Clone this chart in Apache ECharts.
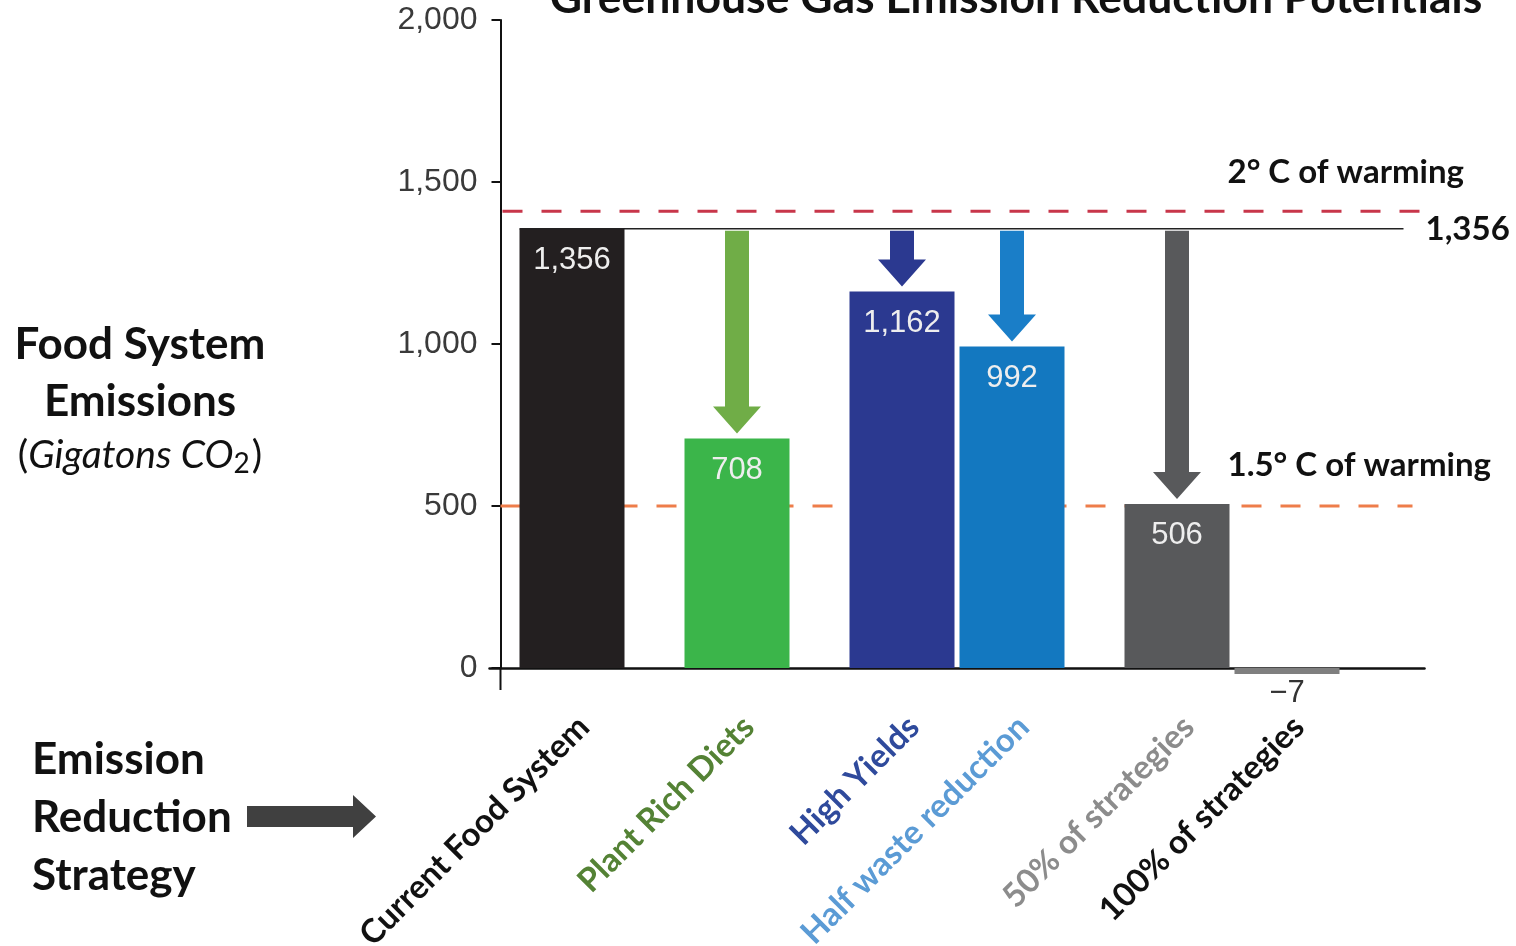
<!DOCTYPE html>
<html><head><meta charset="utf-8">
<script src="https://cdn.jsdelivr.net/npm/echarts@6/dist/echarts.min.js"></script>
<style>html,body{margin:0;padding:0;background:#fff}#c{width:1516px;height:946px}</style>
</head><body><div id="c"></div>
<script>
// ---------- data ----------
const categories = ['Current Food System', 'Plant Rich Diets', 'High Yields', 'Half waste reduction', '50% of strategies', '100% of strategies'];
const emissions = [1356, 708, 1162, 992, 506, -7];
const baseline = 1356;          // current food system level
const warming2C = 1410;         // 2° C of warming threshold
const warming15C = 500;         // 1.5° C of warming threshold
const arrowCategories = [1, 2, 3, 4]; // reductions shown with arrows
const yMin = 0, yMax = 2000, yStep = 500;

// ---------- layout / style ----------
const slots = [1, 4, 7, 9, 12, 14];   // slot of each category on a 17-slot band axis
const nSlots = 17;
const barColors = ['#231f20', '#3bb54a', '#2b3990', '#1378c0', '#58595b', '#7f7f7f'];
const labelColors = ['#111111', '#548235', '#2f4a9c', '#5b9bd5', '#8c8c8c', '#111111'];
const arrowColors = {1: '#70ad47', 2: '#2b3990', 3: '#1a7ec8', 4: '#58595b'};
const LATO = 'Lato, "Open Sans", sans-serif';
const ARIAL = '"Liberation Sans", Arial, sans-serif';

const fmt = v => (v < 0 ? '\u2212' : '') + Math.abs(v).toLocaleString('en-US');

const xData = [];
const slotLabel = {};
const slotColor = {};
for (let i = 0; i < nSlots; i++) xData.push('s' + i);
categories.forEach((c, i) => { slotLabel[slots[i]] = c; slotColor[slots[i]] = labelColors[i]; });

const barData = new Array(nSlots).fill('-');
emissions.forEach((v, i) => {
  const item = { value: v, itemStyle: { color: barColors[i] } };
  if (v < 0) item.label = { position: 'bottom', distance: 4, color: '#333333' };
  barData[slots[i]] = item;
});

const arrowData = arrowCategories.map(ci => [slots[ci], baseline, emissions[ci], ci]);

const chart = echarts.init(document.getElementById('c'), null, { renderer: 'canvas' });

const T = (text, x, y, size, align) => ({ type: 'text', x: x, y: y, style: { text: text, font: 'bold ' + size + 'px ' + LATO, fill: '#111', align: align, verticalAlign: 'middle' } });

chart.setOption({
  animation: false,
  backgroundColor: '#ffffff',
  grid: { left: 489.5, right: 91.5, top: 20, bottom: 278, containLabel: false, outerBoundsMode: 'none' },
  xAxis: {
    type: 'category',
    data: xData,
    axisLine: { lineStyle: { color: '#111', width: 2.5 } },
    axisTick: { show: false },
    axisLabel: {
      interval: 0,
      rotate: 45,
      margin: 42,
      verticalAlign: 'top',
      fontFamily: LATO,
      fontWeight: 'bold',
      fontSize: 33,
      formatter: (v, idx) => slotLabel[idx] || '',
      color: (v, idx) => slotColor[idx] || '#111'
    }
  },
  yAxis: {
    type: 'value',
    min: yMin, max: yMax, interval: yStep,
    offset: -11,
    axisLine: { show: true, lineStyle: { color: '#111', width: 2 } },
    axisTick: { show: true, length: 9, lineStyle: { color: '#111', width: 2 } },
    splitLine: { show: false },
    axisLabel: {
      margin: 23,
      fontFamily: ARIAL,
      fontSize: 32,
      color: '#3a3a3a',
      formatter: v => fmt(v)
    }
  },
  graphic: [
    { type: 'text', x: 1016, y: -1, style: { text: 'Greenhouse Gas Emission Reduction Potentials', font: 'bold 44.5px ' + LATO, fill: '#111', align: 'center', verticalAlign: 'middle' } },
    T('Food System', 140, 345, 44, 'center'),
    T('Emissions', 140, 402, 44, 'center'),
    { type: 'text', x: 140, y: 455, style: {
        text: '{n|(}{i|Gigatons CO}{s|2}{n|)}', align: 'center', verticalAlign: 'middle',
        rich: {
          n: { font: '39px ' + LATO, fill: '#111' },
          i: { font: 'italic 39px ' + LATO, fill: '#111' },
          s: { font: '28px ' + LATO, fill: '#111', padding: [18, 2, 0, 0] }
        } } },
    T('Emission', 32, 760, 44, 'left'),
    T('Reduction', 32, 818, 44, 'left'),
    T('Strategy', 32, 876, 44, 'left'),
    { type: 'polygon', shape: { points: [[247, 806], [353, 806], [353, 795], [376, 816.5], [353, 838], [353, 827], [247, 827]] }, style: { fill: '#404040' } }
  ],
  series: [
    {
      type: 'custom',
      name: 'reference lines',
      z: 1,
      silent: true,
      clip: false,
      data: [[0, baseline]],
      renderItem: (params, api) => {
        const cs = params.coordSys;
        const left = cs.x + 13, right = cs.x + cs.width;
        const y2 = api.coord([0, warming2C])[1];
        const y15 = api.coord([0, warming15C])[1];
        const yb = api.coord([0, baseline])[1];
        const y0 = api.coord([0, 0])[1];
        const barLeft = api.coord([slots[0], baseline])[0] - 52.5;
        const f = 'bold 33px ' + LATO;
        return {
          type: 'group',
          children: [
            { type: 'line', shape: { x1: left, y1: y2, x2: right - 4, y2: y2 }, style: { stroke: '#c8364a', lineWidth: 3, lineDash: [20, 19] } },
            { type: 'line', shape: { x1: cs.x + 11, y1: y15, x2: right - 12, y2: y15 }, style: { stroke: '#ee7d4a', lineWidth: 3, lineDash: [20, 19] } },
            { type: 'line', shape: { x1: barLeft, y1: yb, x2: right - 21, y2: yb }, style: { stroke: '#222', lineWidth: 1.5 } },
            { type: 'line', shape: { x1: cs.x + 11, y1: y0, x2: cs.x + 11, y2: y0 + 22 }, style: { stroke: '#111', lineWidth: 2 } },
            { type: 'text', style: { text: '2\u00b0 C of warming', x: right - 197, y: y2 - 39, font: f, fill: '#111', align: 'left', verticalAlign: 'middle' } },
            { type: 'text', style: { text: '1.5\u00b0 C of warming', x: right - 197, y: y15 - 41, font: f, fill: '#111', align: 'left', verticalAlign: 'middle' } },
            { type: 'text', style: { text: fmt(baseline), x: right + 1, y: yb + 1, font: f, fill: '#111', align: 'left', verticalAlign: 'middle' } }
          ]
        };
      }
    },
    {
      type: 'bar',
      name: 'Emissions',
      z: 2,
      clip: false,
      barWidth: 105,
      barMinHeight: 6,
      data: barData,
      label: {
        show: true,
        position: 'insideTop',
        distance: 16,
        fontFamily: ARIAL,
        fontSize: 31,
        color: '#eeeeee',
        formatter: p => fmt(p.value)
      }
    },
    {
      type: 'custom',
      name: 'reductions',
      z: 3,
      silent: true,
      data: arrowData,
      encode: { x: 0, y: [1, 2] },
      renderItem: (params, api) => {
        const x = api.coord([api.value(0), api.value(1)])[0];
        const yTop = api.coord([api.value(0), api.value(1)])[1] + 2;
        const yTip = api.coord([api.value(0), api.value(2)])[1] - 5;
        const headH = 27, headW = 24, shaftW = 12;
        const color = arrowColors[api.value(3)];
        const yh = yTip - headH;
        return {
          type: 'polygon',
          shape: { points: [[x - shaftW, yTop], [x + shaftW, yTop], [x + shaftW, yh], [x + headW, yh], [x, yTip], [x - headW, yh], [x - shaftW, yh]] },
          style: { fill: color }
        };
      }
    }
  ]
});
</script>
</body></html>
